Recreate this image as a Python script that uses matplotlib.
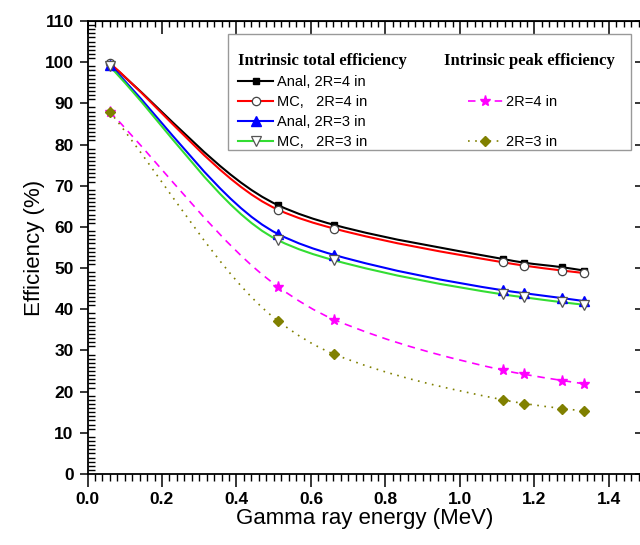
import numpy as np
import matplotlib
matplotlib.use("Agg")
import matplotlib.pyplot as plt
from matplotlib.path import Path
from matplotlib.patches import PathPatch, Rectangle
from matplotlib.lines import Line2D
from matplotlib.ticker import MultipleLocator

# Gamma ray energies (MeV)
energy = [0.0595, 0.511, 0.662, 1.116, 1.173, 1.275, 1.333]

# Intrinsic total efficiency (%)
anal_4in = [99.6, 65.3, 60.5, 52.2, 51.3, 50.2, 49.4]
mc_4in = [99.8, 64.2, 59.6, 51.4, 50.6, 49.4, 48.8]
anal_3in = [99.3, 58.3, 53.2, 44.6, 43.9, 42.7, 42.0]
mc_3in = [99.0, 56.8, 51.9, 43.6, 42.9, 41.7, 41.1]

# Intrinsic peak efficiency (%)
peak_4in = [88.0, 45.5, 37.5, 25.2, 24.2, 22.7, 21.9]
peak_3in = [88.0, 37.2, 29.1, 18.0, 17.1, 15.9, 15.3]


def smooth_path(x, y):
    # monotone cubic (Fritsch-Carlson) drawn as Bezier segments
    x = np.asarray(x, float)
    y = np.asarray(y, float)
    h = np.diff(x)
    d = np.diff(y) / h
    m = np.zeros_like(y)
    m[0], m[-1] = d[0], d[-1]
    for i in range(1, len(x) - 1):
        if d[i - 1] * d[i] > 0:
            w1 = 2 * h[i] + h[i - 1]
            w2 = h[i] + 2 * h[i - 1]
            m[i] = (w1 + w2) / (w1 / d[i - 1] + w2 / d[i])
    verts = [(x[0], y[0])]
    codes = [Path.MOVETO]
    for i in range(len(x) - 1):
        verts += [(x[i] + h[i] / 3, y[i] + m[i] * h[i] / 3),
                  (x[i + 1] - h[i] / 3, y[i + 1] - m[i + 1] * h[i] / 3),
                  (x[i + 1], y[i + 1])]
        codes += [Path.CURVE4] * 3
    return Path(verts, codes)


fig = plt.figure(figsize=(6.4, 5.45), dpi=100)
ax = fig.add_axes([87.5 / 640, 71 / 545, 554.5 / 640, 453 / 545])

series = [
    (anal_4in, "black", "-", dict(marker="s", ms=5, mfc="black", mec="black"), "Anal, 2R=4 in"),
    (mc_4in, "red", "-", dict(marker="o", ms=6, mfc="white", mec="#444444", mew=0.9), "MC,   2R=4 in"),
    (anal_3in, "blue", "-", dict(marker="^", ms=6.5, mfc="blue", mec="blue"), "Anal, 2R=3 in"),
    (mc_3in, "#33dd33", "-", dict(marker="v", ms=6.5, mfc="white", mec="#555555", mew=0.9), "MC,   2R=3 in"),
    (peak_4in, "#ff00ff", (0, (4.5, 3.5)), dict(marker="*", ms=8, mfc="#ff00ff", mec="#ff00ff"), "2R=4 in"),
    (peak_3in, "#808000", (0, (1, 3.3)), dict(marker="D", ms=5.5, mfc="#808000", mec="#808000"), "2R=3 in"),
]

handles = {}
for vals, col, ls, mk, lab in series:
    lw = 1.5 if ls == "-" else 1.2
    ax.add_patch(PathPatch(smooth_path(energy, vals), fill=False, edgecolor=col,
                           lw=lw, linestyle=ls, capstyle="butt"))
    ax.plot(energy, vals, linestyle="none", zorder=3, **mk)
    handles[lab] = Line2D([], [], color=col, lw=lw, linestyle=ls, **mk)

ax.set_xlim(0, 1.4886)
ax.set_ylim(0, 110)

ax.xaxis.set_major_locator(MultipleLocator(0.2))
ax.xaxis.set_minor_locator(MultipleLocator(0.02))
ax.yaxis.set_major_locator(MultipleLocator(10))
ax.yaxis.set_minor_locator(MultipleLocator(1))
ax.set_xticks(np.arange(0, 1.41, 0.2))

ax.tick_params(axis="x", which="major", direction="out", length=9, width=1.1, pad=4)
ax.tick_params(axis="x", which="minor", direction="out", length=5, width=1)
ax.tick_params(axis="y", which="major", direction="out", length=6, width=1.1, pad=4)
ax.tick_params(axis="y", which="minor", direction="in", length=5, width=1)

for lbl in ax.get_xticklabels() + ax.get_yticklabels():
    lbl.set_fontfamily("Liberation Sans")
    lbl.set_fontweight("bold")
    lbl.set_fontsize(12.5)

top = ax.secondary_xaxis("top")
top.xaxis.set_major_locator(MultipleLocator(0.2))
top.xaxis.set_minor_locator(MultipleLocator(0.02))
top.tick_params(which="major", direction="in", length=9, width=1.1, labeltop=False)
top.tick_params(which="minor", direction="in", length=4, width=1)
right = ax.secondary_yaxis("right")
right.yaxis.set_major_locator(MultipleLocator(10))
right.tick_params(which="major", direction="in", length=5, width=1.1, labelright=False)

for sp in ax.spines.values():
    sp.set_linewidth(1.3)

ax.set_xlabel("Gamma ray energy (MeV)", fontfamily="Liberation Sans", fontsize=16, labelpad=1)
ax.set_ylabel("Efficiency (%)", fontfamily="Liberation Sans", fontsize=16, labelpad=0)

# legend box
fig.add_artist(Rectangle((228 / 640, 1 - 150 / 545), 403 / 640, 116 / 545,
                         transform=fig.transFigure, facecolor="white",
                         edgecolor="#999999", lw=1.0, zorder=4))

blank = Line2D([], [], linestyle="none")
leg_handles = [handles["Anal, 2R=4 in"], handles["MC,   2R=4 in"],
               handles["Anal, 2R=3 in"], handles["MC,   2R=3 in"],
               blank, handles["2R=4 in"], blank, handles["2R=3 in"]]
leg_labels = ["Anal, 2R=4 in", "MC,   2R=4 in", "Anal, 2R=3 in", "MC,   2R=3 in",
              " ", "2R=4 in", " ", "2R=3 in"]
leg = fig.legend(leg_handles, leg_labels, ncol=2, loc="upper left",
                 bbox_to_anchor=(230 / 640, 1 - 31.5 / 545),
                 prop={"family": "Liberation Sans", "size": 10.5},
                 handlelength=2.4, handletextpad=0.25, columnspacing=6.9,
                 labelspacing=0.42, borderpad=0.55, borderaxespad=0,
                 numpoints=1, frameon=False,
                 title="\nIntrinsic total efficiency         Intrinsic peak efficiency",
                 title_fontproperties={"family": "Liberation Serif", "weight": "bold", "size": 12},
                 alignment="left")
leg.get_title().set_linespacing(0.75)
leg.set_zorder(5)

fig.savefig("out.png", dpi=100)
